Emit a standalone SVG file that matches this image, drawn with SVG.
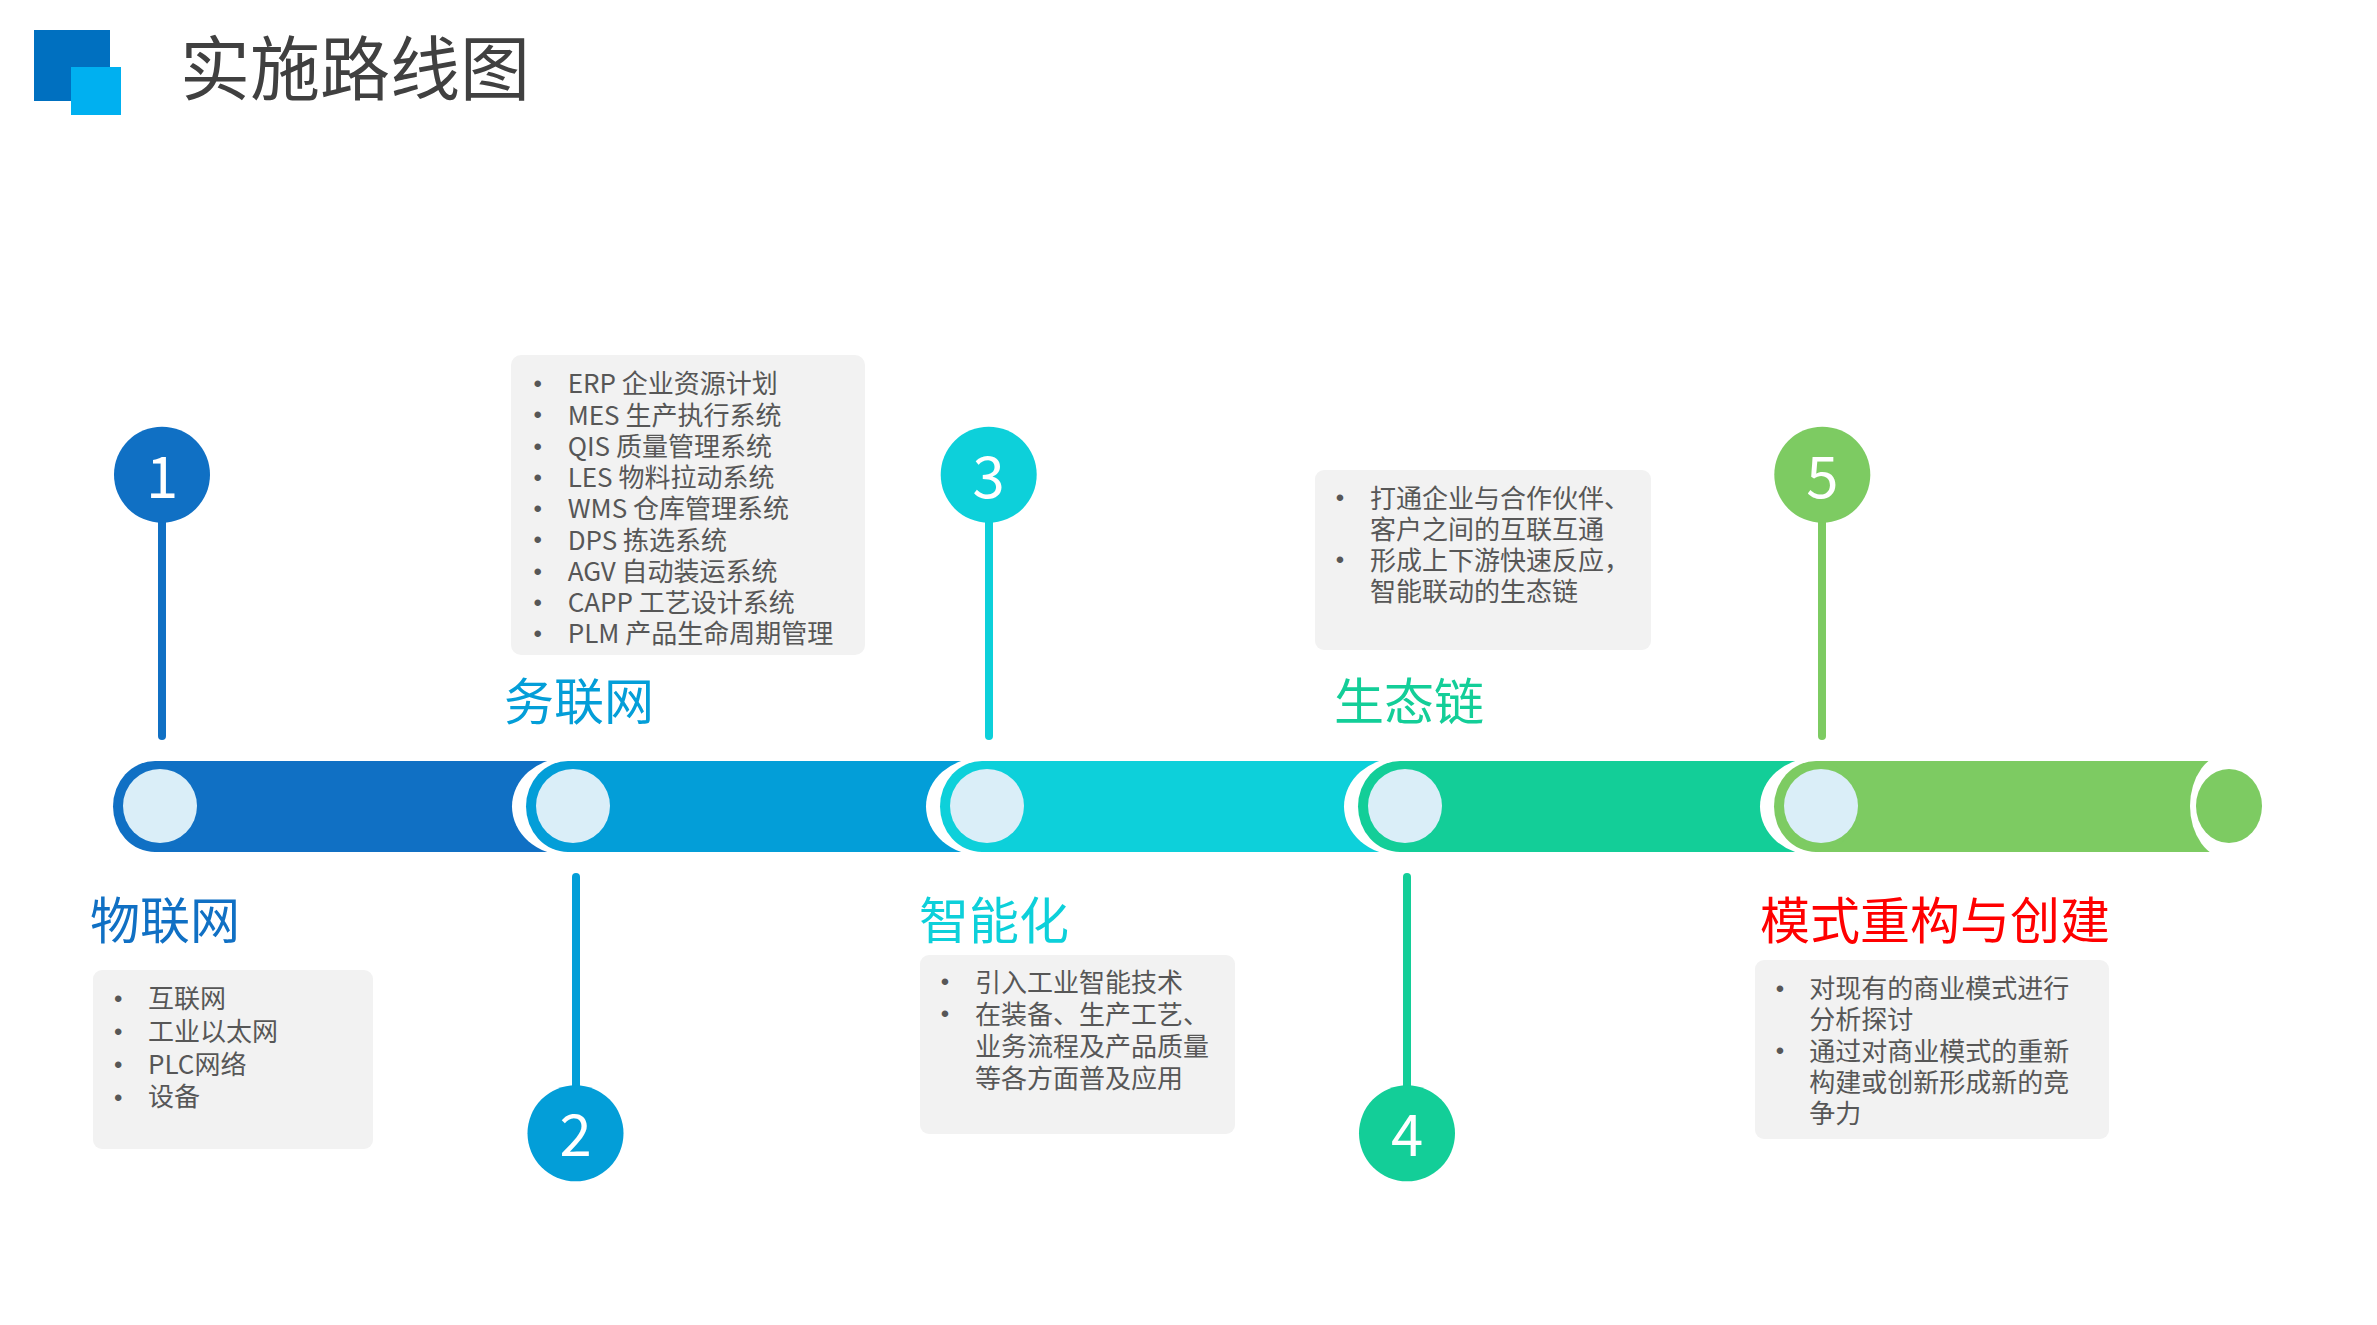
<svg xmlns="http://www.w3.org/2000/svg" width="2377" height="1325" viewBox="0 0 2377 1325">
<style>
.t{font-family:"Noto Sans CJK SC","Microsoft YaHei",sans-serif;}
.title{font-size:70px;fill:#404040;}
.lbl{font-size:50px;}
.body{font-size:26px;fill:#575757;}
.bul{font-family:"Liberation Sans",Arial,sans-serif;font-size:24px;fill:#575757;text-anchor:middle;}
.num{font-size:58px;fill:#ffffff;text-anchor:middle;}
.box{fill:#F2F2F2;}
.light{fill:#DAEEF8;}
.white{fill:#ffffff;}
.c1{fill:#1070C4;}.s1{stroke:#1070C4;}
.c2{fill:#039ED8;}.s2{stroke:#039ED8;}
.c3{fill:#0DD0DA;}.s3{stroke:#0DD0DA;}
.c4{fill:#13CE98;}.s4{stroke:#13CE98;}
.c5{fill:#7DCB62;}.s5{stroke:#7DCB62;}
.ln{stroke-width:8;stroke-linecap:round;fill:none;}
</style>
<rect width="2377" height="1325" fill="#ffffff"/>
<g id="header">
<rect x="34" y="30" width="76" height="71" fill="#0070C0"/>
<rect x="71" y="67" width="50" height="48" fill="#00B0F0"/>
<text class="t title" x="180" y="95">实施路线图</text>
</g>
<g id="pipe">
<g id="seg1">
<rect class="c1" x="155" y="761" width="425" height="91"/>
<ellipse class="c1" cx="155" cy="806.5" rx="42" ry="45.5"/>
<circle class="light" cx="160" cy="806" r="37"/>
</g>
<g id="seg2">
<ellipse class="white" cx="568" cy="806.5" rx="56" ry="49"/>
<rect class="c2" x="568" y="761" width="425" height="91"/>
<ellipse class="c2" cx="568" cy="806.5" rx="42" ry="45.5"/>
<circle class="light" cx="573" cy="806" r="37"/>
</g>
<g id="seg3">
<ellipse class="white" cx="982" cy="806.5" rx="56" ry="49"/>
<rect class="c3" x="982" y="761" width="430" height="91"/>
<ellipse class="c3" cx="982" cy="806.5" rx="42" ry="45.5"/>
<circle class="light" cx="987" cy="806" r="37"/>
</g>
<g id="seg4">
<ellipse class="white" cx="1400" cy="806.5" rx="56" ry="49"/>
<rect class="c4" x="1400" y="761" width="425" height="91"/>
<ellipse class="c4" cx="1400" cy="806.5" rx="42" ry="45.5"/>
<circle class="light" cx="1405" cy="806" r="37"/>
</g>
<g id="seg5">
<ellipse class="white" cx="1816" cy="806.5" rx="56" ry="49"/>
<rect class="c5" x="1816" y="761" width="400" height="91"/>
<ellipse class="c5" cx="1816" cy="806.5" rx="42" ry="45.5"/>
<circle class="light" cx="1821" cy="806" r="37"/>
</g>
<g id="endcap">
<ellipse class="white" cx="2229" cy="806" rx="39" ry="53"/>
<ellipse class="c5" cx="2229" cy="806" rx="33" ry="37"/>
</g>
</g>
<g id="connectors">
<line class="ln s1" x1="162" y1="500" x2="162" y2="736"/>
<line class="ln s2" x1="576" y1="877" x2="576" y2="1110"/>
<line class="ln s3" x1="989" y1="500" x2="989" y2="736"/>
<line class="ln s4" x1="1407" y1="877" x2="1407" y2="1110"/>
<line class="ln s5" x1="1822" y1="500" x2="1822" y2="736"/>
</g>
<g id="marker1">
<circle class="c1" cx="162" cy="474.7" r="48"/>
<text class="t num" x="162" y="497.5">1</text>
</g>
<g id="marker2">
<circle class="c2" cx="575.5" cy="1133.3" r="48"/>
<text class="t num" x="575.5" y="1156">2</text>
</g>
<g id="marker3">
<circle class="c3" cx="988.7" cy="474.7" r="48"/>
<text class="t num" x="988.7" y="497.5">3</text>
</g>
<g id="marker4">
<circle class="c4" cx="1407" cy="1133.3" r="48"/>
<text class="t num" x="1407" y="1156">4</text>
</g>
<g id="marker5">
<circle class="c5" cx="1822.3" cy="474.7" r="48"/>
<text class="t num" x="1822.3" y="497.5">5</text>
</g>
<g id="stage1">
<text class="t lbl c1" x="90" y="939">物联网</text>
<rect class="box" x="93" y="970" width="280" height="179" rx="9"/>
<text class="bul" x="118.3" y="1007">•</text>
<text class="bul" x="118.3" y="1040">•</text>
<text class="bul" x="118.3" y="1073">•</text>
<text class="bul" x="118.3" y="1106">•</text>
<text class="t body" x="148" y="1008">互联网</text>
<text class="t body" x="148" y="1041">工业以太网</text>
<text class="t body" x="148" y="1073.6">PLC网络</text>
<text class="t body" x="148" y="1106.4">设备</text>
</g>
<g id="stage2">
<rect class="box" x="511" y="355" width="354" height="300" rx="10"/>
<text class="t lbl c2" x="504" y="719.5">务联网</text>
<g class="bul">
<text class="bul" x="537.7" y="392">•</text>
<text class="bul" x="537.7" y="423.3">•</text>
<text class="bul" x="537.7" y="454.5">•</text>
<text class="bul" x="537.7" y="485.8">•</text>
<text class="bul" x="537.7" y="517">•</text>
<text class="bul" x="537.7" y="548.3">•</text>
<text class="bul" x="537.7" y="579.5">•</text>
<text class="bul" x="537.7" y="610.8">•</text>
<text class="bul" x="537.7" y="642">•</text>
</g>
<text class="t body" x="567.7" y="393.3">ERP 企业资源计划</text>
<text class="t body" x="567.7" y="424.6">MES 生产执行系统</text>
<text class="t body" x="567.7" y="455.8">QIS 质量管理系统</text>
<text class="t body" x="567.7" y="487.1">LES 物料拉动系统</text>
<text class="t body" x="567.7" y="518.3">WMS 仓库管理系统</text>
<text class="t body" x="567.7" y="549.6">DPS 拣选系统</text>
<text class="t body" x="567.7" y="580.8">AGV 自动装运系统</text>
<text class="t body" x="567.7" y="612.1">CAPP 工艺设计系统</text>
<text class="t body" x="567.7" y="643.3">PLM 产品生命周期管理</text>
</g>
<g id="stage3">
<text class="t lbl c3" x="919" y="939">智能化</text>
<rect class="box" x="920" y="955" width="315" height="179" rx="9"/>
<text class="bul" x="945" y="990">•</text>
<text class="bul" x="945" y="1022.2">•</text>
<text class="t body" x="975" y="991.5">引入工业智能技术</text>
<text class="t body" x="975" y="1023.7">在装备、生产工艺、</text>
<text class="t body" x="975" y="1055.9">业务流程及产品质量</text>
<text class="t body" x="975" y="1088.1">等各方面普及应用</text>
</g>
<g id="stage4">
<rect class="box" x="1315" y="470" width="336" height="180" rx="9"/>
<text class="t lbl c4" x="1334" y="719.5">生态链</text>
<text class="bul" x="1340" y="506">•</text>
<text class="bul" x="1340" y="568.2">•</text>
<text class="t body" x="1370" y="507.5">打通企业与合作伙伴、</text>
<text class="t body" x="1370" y="538.6">客户之间的互联互通</text>
<text class="t body" x="1370" y="569.7">形成上下游快速反应，</text>
<text class="t body" x="1370" y="600.8">智能联动的生态链</text>
</g>
<g id="stage5">
<text class="t lbl" x="1760" y="939" fill="#FF0000">模式重构与创建</text>
<rect class="box" x="1755" y="960" width="354" height="179" rx="9"/>
<text class="bul" x="1780" y="996.5">•</text>
<text class="bul" x="1780" y="1059">•</text>
<text class="t body" x="1809.3" y="998">对现有的商业模式进行</text>
<text class="t body" x="1809.3" y="1029.3">分析探讨</text>
<text class="t body" x="1809.3" y="1060.5">通过对商业模式的重新</text>
<text class="t body" x="1809.3" y="1091.8">构建或创新形成新的竞</text>
<text class="t body" x="1809.3" y="1123">争力</text>
</g>
</svg>
